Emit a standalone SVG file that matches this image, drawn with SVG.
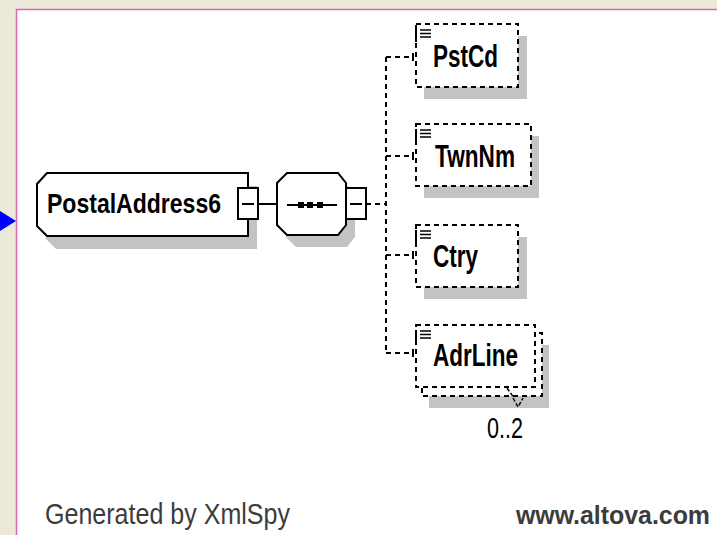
<svg xmlns="http://www.w3.org/2000/svg" width="717" height="535" viewBox="0 0 717 535">
  <style>
    .shadow { fill: #c3c3c3; stroke: none; }
    .solid { fill: #ffffff; stroke: #000000; stroke-width: 2; }
    .dbox { fill: #ffffff; stroke: #000000; stroke-width: 2; stroke-dasharray: 5 4; }
    .line { fill: none; stroke: #000000; stroke-width: 2; }
    .dline { fill: none; stroke: #000000; stroke-width: 2; stroke-dasharray: 5 4; }
    .icon { fill: none; stroke: #000000; stroke-width: 1.5; }
    .label { font-family: "Liberation Sans", Arial, sans-serif; font-weight: bold; fill: #000000; }
    .card { font-family: "Liberation Sans", Arial, sans-serif; fill: #000000; }
    .footer { font-family: "Liberation Sans", Arial, sans-serif; fill: #3c3c3c; }
  </style>

  <!-- background -->
  <rect x="0" y="0" width="717" height="535" fill="#ece9d8"/>
  <rect x="16" y="9" width="701" height="526" fill="#ffffff"/>
  <line x1="16.5" y1="9" x2="16.5" y2="535" stroke="#d468b4" stroke-width="1.5"/>
  <line x1="16" y1="9.5" x2="717" y2="9.5" stroke="#d468b4" stroke-width="1.5"/>
  <polygon points="0,211 16,221 0,231" fill="#0000ff"/>

  <!-- connectors -->
  <g id="connectors">
    <line class="line" x1="258" y1="204" x2="277" y2="204"/>
    <line class="dline" x1="366" y1="204" x2="386" y2="204"/>
    <line class="dline" x1="386" y1="57" x2="386" y2="353"/>
    <line class="dline" x1="386" y1="57" x2="414" y2="57"/>
    <line class="dline" x1="386" y1="156" x2="414" y2="156"/>
    <line class="dline" x1="386" y1="255" x2="414" y2="255"/>
    <line class="dline" x1="386" y1="353" x2="414" y2="353"/>
    <line class="line" x1="413" y1="53" x2="413" y2="61"/>
    <line class="line" x1="413" y1="152" x2="413" y2="160"/>
    <line class="line" x1="413" y1="251" x2="413" y2="259"/>
    <line class="line" x1="413" y1="349" x2="413" y2="357"/>
  </g>

  <!-- PostalAddress6 -->
  <g id="node-PostalAddress6">
    <polygon class="shadow" points="56,186 257,186 257,249 56,249 46,239 46,197"/>
    <polygon class="solid" points="47,173 248,173 248,236 47,236 37,226 37,184"/>
    <text class="label" x="47" y="213" font-size="28" textLength="174" lengthAdjust="spacingAndGlyphs">PostalAddress6</text>
    <rect class="solid" x="238" y="188" width="20" height="31"/>
    <line class="line" x1="242" y1="204" x2="254" y2="204"/>
  </g>

  <!-- sequence compositor -->
  <g id="node-sequence">
    <polygon class="shadow" points="296,185 347,185 355,195 355,237 347,247 296,247 286,237 286,195"/>
    <polygon class="solid" points="287,173 338,173 346,183 346,225 338,235 287,235 277,225 277,183"/>
    <line class="line" x1="287" y1="205" x2="337" y2="205"/>
    <rect x="298" y="202" width="6" height="6" fill="#000"/>
    <rect x="307" y="202" width="6" height="6" fill="#000"/>
    <rect x="317" y="202" width="6" height="6" fill="#000"/>
    <rect class="solid" x="346" y="188" width="20" height="31"/>
    <line class="line" x1="350" y1="204" x2="362" y2="204"/>
  </g>

  <!-- PstCd -->
  <g id="node-PstCd">
    <rect class="shadow" x="424" y="36" width="103" height="63"/>
    <rect class="dbox" x="416" y="24" width="102" height="63"/>
    <line class="line" x1="416" y1="29" x2="416" y2="42"/>
    <path class="icon" d="M420,30 H431 M420,33.5 H431 M420,37 H431"/>
    <text class="label" x="433" y="67" font-size="31" textLength="65" lengthAdjust="spacingAndGlyphs">PstCd</text>
  </g>

  <!-- TwnNm -->
  <g id="node-TwnNm">
    <rect class="shadow" x="424" y="136" width="115" height="62"/>
    <rect class="dbox" x="416" y="124" width="115" height="62"/>
    <line class="line" x1="416" y1="129" x2="416" y2="142"/>
    <path class="icon" d="M420,130 H431 M420,133.5 H431 M420,137 H431"/>
    <text class="label" x="435" y="167" font-size="31" textLength="80" lengthAdjust="spacingAndGlyphs">TwnNm</text>
  </g>

  <!-- Ctry -->
  <g id="node-Ctry">
    <rect class="shadow" x="424" y="237" width="103" height="62"/>
    <rect class="dbox" x="416" y="225" width="102" height="62"/>
    <line class="line" x1="416" y1="230" x2="416" y2="243"/>
    <path class="icon" d="M420,231 H431 M420,234.5 H431 M420,238 H431"/>
    <text class="label" x="433" y="267" font-size="31" textLength="45" lengthAdjust="spacingAndGlyphs">Ctry</text>
  </g>

  <!-- AdrLine -->
  <g id="node-AdrLine">
    <rect class="shadow" x="429" y="345" width="120" height="63"/>
    <rect class="dbox" x="422" y="333" width="120" height="63"/>
    <rect class="dbox" x="416" y="325" width="119" height="62"/>
    <line class="line" x1="416" y1="330" x2="416" y2="343"/>
    <path class="icon" d="M420,331 H431 M420,334.5 H431 M420,338 H431"/>
    <text class="label" x="433" y="366" font-size="31" textLength="85" lengthAdjust="spacingAndGlyphs">AdrLine</text>
    <path d="M507,388 L514,398 M513,398 L518,407 L523,398" fill="none" stroke="#000" stroke-width="1.5" stroke-dasharray="4 2"/>
    <text class="card" x="487" y="438" font-size="29" textLength="36" lengthAdjust="spacingAndGlyphs">0..2</text>
  </g>

  <!-- footer -->
  <text class="footer" x="45" y="524" font-size="29" textLength="245" lengthAdjust="spacingAndGlyphs">Generated by XmlSpy</text>
  <text class="footer" x="516" y="524" font-size="25" font-weight="bold" textLength="194" lengthAdjust="spacingAndGlyphs">www.altova.com</text>
</svg>
